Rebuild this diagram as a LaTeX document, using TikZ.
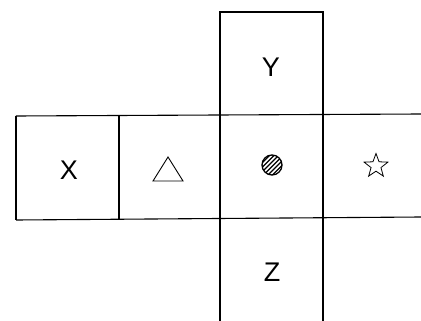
\documentclass[tikz,border=0pt]{standalone}
\usepackage{fontspec}
\setmainfont{Liberation Sans}
\begin{document}
\begin{tikzpicture}[x=1pt,y=-1pt,
  edge/.style={line width=1.1pt,black},
  lab/.style={font=\fontsize{27}{27}\selectfont,inner sep=0pt,anchor=center},
  sym/.style={line width=0.9pt,black}]
\useasboundingbox (0,0) rectangle (421,321);
% edges of the net
\coordinate (ytl) at (220,12);
\coordinate (ytr) at (323,12);
\coordinate (ml) at (16,116);
\coordinate (mr) at (421,114);
\coordinate (bl) at (16,220);
\coordinate (br) at (421,217);
\draw[edge] (220,321) -- (ytl) -- (ytr) -- (323,321);
\draw[edge] (ml) -- (mr);
\draw[edge] (bl) -- (br);
\draw[edge] (ml) -- (bl);
\draw[edge] (119,115.5) -- (119,219.5);
% labels
\node[lab] (y) at (271,67) {Y};
\node[lab] (x) at (69,170) {X};
\node[lab] (z) at (272,272) {Z};
% triangle
\draw[sym] (153,181) -- (168,157) -- (183,181) -- cycle;
% hatched circle
\coordinate (c) at (272,165);
\begin{scope}
  \clip (c) circle (10);
  \foreach \d in {-12,-7.5,-3,1.5,6,10.5} {
    \draw[line width=1.2pt] ([shift={(\d-15,15)}]c) -- ([shift={(\d+15,-15)}]c);
  }
\end{scope}
\draw[sym,line width=1.3pt] (c) circle (10);
% star
\draw[sym,line width=0.8pt] (376,166) +(-90:12.5) -- +(-54:5.2) -- +(-18:12.5) -- +(18:5.2) -- +(54:12.5) -- +(90:5.2) -- +(126:12.5) -- +(162:5.2) -- +(198:12.5) -- +(234:5.2) -- cycle;
\end{tikzpicture}
\end{document}
